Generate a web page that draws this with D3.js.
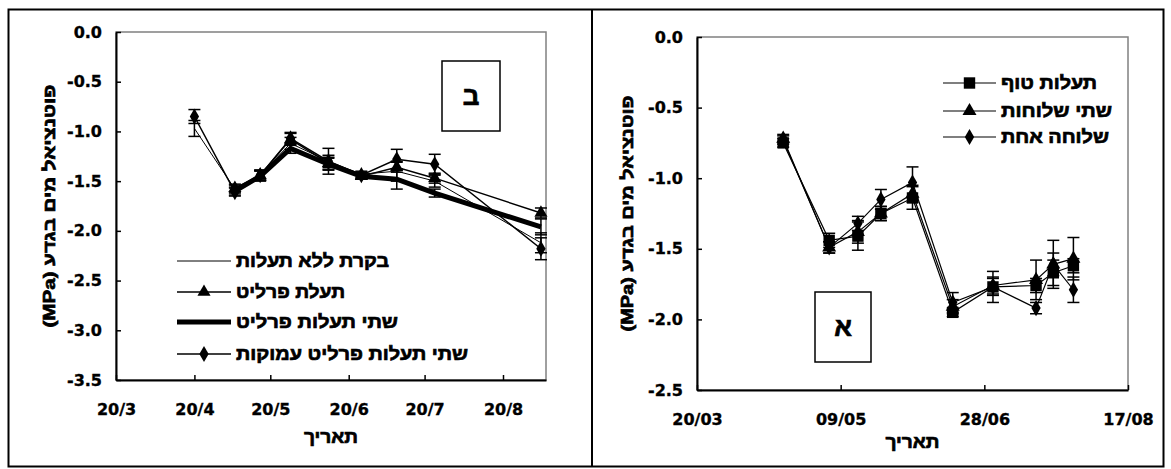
<!DOCTYPE html>
<html><head><meta charset="utf-8">
<script src="https://cdn.jsdelivr.net/npm/d3@7"></script>
<style>
html,body{margin:0;padding:0;background:#fff;}
svg{display:block;}
text{font-family:"DejaVu Sans",sans-serif;font-weight:bold;fill:#000;}
.tick text{stroke:#000;stroke-width:0.35px;}
text.heb{font-family:"Liberation Sans","DejaVu Sans",sans-serif;stroke:#000;stroke-width:0.7px;}
</style></head>
<body>
<svg id="chart" width="1171" height="469"></svg>
<script>
// ---------- Panel B (left) data ----------
const leftDates = ["2001-04-20","2001-05-06","2001-05-16","2001-05-28","2001-06-12","2001-06-25","2001-07-09","2001-07-24","2001-09-04"];
const leftControl = [-0.97,-1.58,-1.44,-1.12,-1.30,-1.43,-1.40,-1.50,-2.12];
const leftControlErr = [0.08,0.04,0.05,0.06,0.13,0.03,0.10,0.06,0.10];
const leftPerlite = [null,-1.57,-1.44,-1.08,-1.32,-1.45,-1.36,-1.47,-1.82];
const leftPerliteErr = [null,0.04,0.05,0.06,0.06,0.03,0.05,0.05,0.05];
const leftTwoPerlite = [null,-1.60,-1.45,-1.17,-1.33,-1.45,-1.48,-1.62,-1.96];
const leftTwoPerliteErr = [null,0.04,0.05,0.05,0.06,0.03,0.10,0.04,0.08];
const leftDeep = [-0.85,-1.61,-1.44,-1.07,-1.30,-1.44,-1.28,-1.33,-2.18];
const leftDeepErr = [0.07,0.04,0.05,0.06,0.06,0.03,0.10,0.10,0.11];
const leftTickDates = ["2001-03-20","2001-04-20","2001-05-20","2001-06-20","2001-07-20","2001-08-20"];
const leftTickLabels = ["20/3","20/4","20/5","20/6","20/7","20/8"];
const leftYTicks = [0,-0.5,-1.0,-1.5,-2.0,-2.5,-3.0,-3.5];
const leftLegend = ["בקרת ללא תעלות","תעלת פרליט","שתי תעלות פרליט","שתי תעלות פרליט עמוקות"];

// ---------- Panel A (right) data ----------
const rightDates = ["2001-04-19","2001-05-05","2001-05-15","2001-05-23","2001-06-03","2001-06-17","2001-07-01","2001-07-16","2001-07-22","2001-07-29"];
const rightTuff = [-0.75,-1.44,-1.41,-1.25,-1.14,-1.95,-1.77,-1.76,-1.67,-1.62];
const rightTuffErr = [0.03,0.05,0.10,0.05,0.08,0.03,0.06,0.05,0.09,0.05];
const rightTwoBranch = [-0.72,-1.49,-1.38,-1.25,-1.11,-1.91,-1.76,-1.72,-1.61,-1.57];
const rightTwoBranchErr = [0.03,0.04,0.08,0.05,0.06,0.05,0.06,0.14,0.17,0.15];
const rightOneBranch = [-0.73,-1.49,-1.32,-1.15,-1.03,-1.88,-1.77,-1.92,-1.61,-1.79];
const rightOneBranchErr = [0.03,0.04,0.05,0.07,0.11,0.07,0.11,0.04,0.08,0.09];
const rightTickDates = ["2001-03-20","2001-05-09","2001-06-28","2001-08-17"];
const rightTickLabels = ["20/03","09/05","28/06","17/08"];
const rightYTicks = [0,-0.5,-1.0,-1.5,-2.0,-2.5];
const rightLegend = ["תעלות טוף","שתי שלוחות","שלוחה אחת"];

const yTitle = "פוטנציאל מים בגדע (MPa)";
const xTitle = "תאריך";

const parse = d3.timeParse("%Y-%m-%d");
const svg = d3.select("#chart");

// outer frame + divider
svg.append("rect").attr("x",8.5).attr("y",9.5).attr("width",1155).attr("height",457)
  .attr("fill","none").attr("stroke","#000").attr("stroke-width",2);
svg.append("line").attr("x1",592).attr("x2",592).attr("y1",9.5).attr("y2",466.5)
  .attr("stroke","#000").attr("stroke-width",2);

function symbolPath(type, size){
  const s = {square:d3.symbolSquare, triangle:d3.symbolTriangle, diamond:d3.symbolDiamond}[type];
  return d3.symbol().type(s).size(size)();
}

function hebText(g, str, len, size){
  return g.append("text").attr("class","heb").attr("font-size",size)
    .attr("textLength",len).attr("lengthAdjust","spacingAndGlyphs").text(str);
}

function panel(cfg){
  const g = svg.append("g");
  const x = d3.scaleTime().domain(cfg.xDomain.map(parse)).range([cfg.left,cfg.right]);
  const y = d3.scaleLinear().domain(cfg.yDomain).range([cfg.bottom,cfg.top]);

  g.append("rect").attr("x",cfg.left).attr("y",cfg.top)
    .attr("width",cfg.right-cfg.left).attr("height",cfg.bottom-cfg.top)
    .attr("fill","none").attr("stroke","#808080").attr("stroke-width",1.5);

  const ya = g.append("g").attr("transform",`translate(${cfg.left},0)`)
    .call(d3.axisLeft(y).tickValues(cfg.yTicks).tickFormat(d=>d.toFixed(1))
      .tickSizeInner(-5).tickSizeOuter(0).tickPadding(14));
  ya.attr("font-family",null).attr("font-size",null);
  ya.select(".domain").attr("stroke","#000").attr("stroke-width",2);
  ya.selectAll(".tick line").attr("stroke","#000").attr("stroke-width",1.5);
  ya.selectAll(".tick text").attr("font-size",16);

  const xa = g.append("g").attr("transform",`translate(0,${cfg.bottom})`)
    .call(d3.axisBottom(x).tickValues(cfg.xTicks.map(parse))
      .tickFormat((d,i)=>cfg.xLabels[i]).tickSizeInner(-5).tickSizeOuter(0).tickPadding(24));
  xa.attr("font-family",null).attr("font-size",null);
  xa.select(".domain").attr("stroke","#000").attr("stroke-width",2);
  xa.selectAll(".tick line").attr("stroke","#000").attr("stroke-width",1.5);
  xa.selectAll(".tick text").attr("font-size",16);

  // titles
  hebText(g, xTitle, 54, 18).attr("x",(cfg.left+cfg.right)/2).attr("y",cfg.xTitleY)
    .attr("text-anchor","middle");
  hebText(g, yTitle, cfg.yTitleLen, 17)
    .attr("transform",`translate(${cfg.yTitleX},${(cfg.top+cfg.bottom)/2}) rotate(-90)`)
    .attr("text-anchor","middle").attr("dominant-baseline","central")
    .style("direction","rtl").style("unicode-bidi","embed");

  // letter box
  g.append("rect").attr("x",cfg.box[0]).attr("y",cfg.box[1]).attr("width",cfg.box[2]).attr("height",cfg.box[3])
    .attr("fill","#fff").attr("stroke","#000").attr("stroke-width",1.5);
  g.append("text").attr("class","heb").attr("x",cfg.box[0]+cfg.box[2]/2).attr("y",cfg.box[1]+cfg.box[3]/2)
    .attr("text-anchor","middle").attr("dominant-baseline","central").attr("font-size",26)
    .text(cfg.boxLabel);

  // series
  cfg.series.forEach(s=>{
    const pts = cfg.dates.map((d,i)=>({x:x(parse(d)), v:s.values[i], e:s.err[i]})).filter(p=>p.v!=null);
    pts.forEach(p=>{
      if(p.e==null) return;
      const y1=y(p.v+p.e), y2=y(p.v-p.e);
      g.append("line").attr("x1",p.x).attr("x2",p.x).attr("y1",y1).attr("y2",y2).attr("stroke","#000").attr("stroke-width",1.5);
      [y1,y2].forEach(yy=>g.append("line").attr("x1",p.x-6).attr("x2",p.x+6).attr("y1",yy).attr("y2",yy).attr("stroke","#000").attr("stroke-width",1.5));
    });
    g.append("path").datum(pts)
      .attr("d",d3.line().x(p=>p.x).y(p=>y(p.v)))
      .attr("fill","none").attr("stroke","#000").attr("stroke-width",s.width);
    if(s.marker){
      g.selectAll(null).data(pts).enter().append("path")
        .attr("d",symbolPath(s.marker,s.msize))
        .attr("transform",p=>`translate(${p.x},${y(p.v)})`).attr("fill","#000");
    }
  });

  // legend
  cfg.legend.forEach((lab,i)=>{
    const s = cfg.series[i];
    const ly = cfg.legY[i];
    g.append("line").attr("x1",cfg.legX[0]).attr("x2",cfg.legX[1]).attr("y1",ly).attr("y2",ly)
      .attr("stroke","#000").attr("stroke-width",s.width);
    if(s.marker){
      g.append("path").attr("d",symbolPath(s.marker,s.msize))
        .attr("transform",`translate(${(cfg.legX[0]+cfg.legX[1])/2},${ly})`).attr("fill","#000");
    }
    hebText(g, lab, cfg.legLen[i], 18).attr("x",cfg.legX[1]+5).attr("y",ly).attr("dominant-baseline","central");
  });
}

panel({
  left:116, right:546, top:32, bottom:380,
  xDomain:["2001-03-20","2001-09-06"], yDomain:[-3.5,0],
  xTicks:leftTickDates, xLabels:leftTickLabels, yTicks:leftYTicks,
  xTitleY:443, yTitleX:49, yTitleLen:243,
  box:[442,61,58,70], boxLabel:"ב",
  dates:leftDates,
  series:[
    {values:leftControl, err:leftControlErr, width:1, marker:null},
    {values:leftPerlite, err:leftPerliteErr, width:1.5, marker:"triangle", msize:75},
    {values:leftTwoPerlite, err:leftTwoPerliteErr, width:5, marker:null},
    {values:leftDeep, err:leftDeepErr, width:1.5, marker:"diamond", msize:75}
  ],
  legend:leftLegend, legY:[261,292,322,354], legX:[177,231], legLen:[153,109,162,232]
});

panel({
  left:697, right:1128, top:37, bottom:390,
  xDomain:["2001-03-20","2001-08-17"], yDomain:[-2.5,0],
  xTicks:rightTickDates, xLabels:rightTickLabels, yTicks:rightYTicks,
  xTitleY:448, yTitleX:627, yTitleLen:236,
  box:[815,292,56,70], boxLabel:"א",
  dates:rightDates,
  series:[
    {values:rightTuff, err:rightTuffErr, width:1.2, marker:"square", msize:130},
    {values:rightTwoBranch, err:rightTwoBranchErr, width:1.2, marker:"triangle", msize:85},
    {values:rightOneBranch, err:rightOneBranchErr, width:1.2, marker:"diamond", msize:75}
  ],
  legend:rightLegend, legY:[83,111,137], legX:[943,996], legLen:[96,111,108]
});
</script>
</body></html>
